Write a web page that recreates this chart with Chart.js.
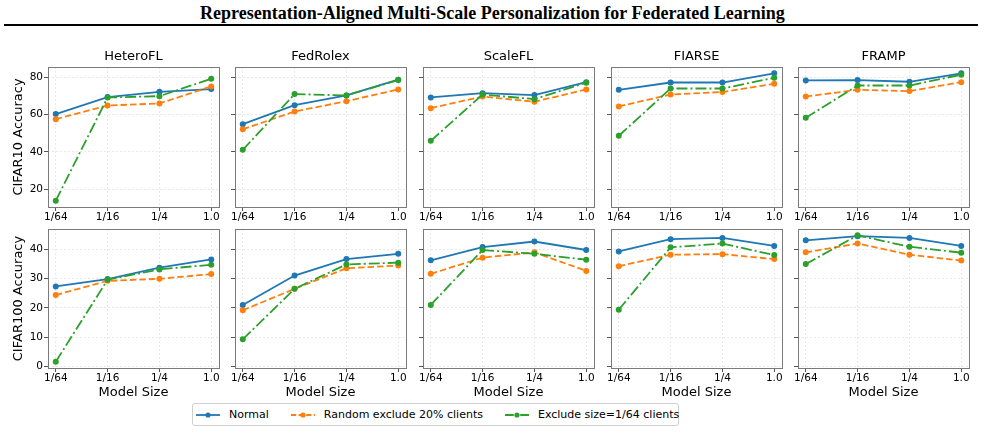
<!DOCTYPE html>
<html>
<head>
<meta charset="utf-8">
<script src="https://cdn.jsdelivr.net/npm/chart.js@4.4.1/dist/chart.umd.min.js"></script>
<style>
  html, body { margin: 0; padding: 0; background: #fff; }
  #wrap { position: relative; width: 985px; height: 434px; overflow: hidden; font-family: "DejaVu Sans", sans-serif; }
  #title { position: absolute; left: 0; top: 3px; width: 985px; text-align: center; font-family: "Liberation Serif", serif; font-weight: bold; font-size: 18px; color: #000; }
  #rule { position: absolute; left: 4px; top: 24px; width: 974px; height: 2px; background: #000; }
  canvas { position: absolute; }
  #legend { position: absolute; left: 192px; top: 403px; width: 487px; height: 23px; box-sizing: border-box; border: 1px solid #d0d0d0; border-radius: 3px; display: flex; align-items: center; padding-left: 3px; font-size: 11px; color: #000; white-space: nowrap; }
  #legend .item { display: flex; align-items: center; margin-right: 22px; flex-shrink: 0; }
  #legend svg { margin-right: 9px; }
</style>
</head>
<body>
<div id="wrap">
  <div id="title">Representation-Aligned Multi-Scale Personalization for Federated Learning</div>
  <div id="rule"></div>
  <div id="legend"></div>
</div>
<script>
const sizeLabels = ['1/64', '1/16', '1/4', '1.0'];
const sizePos = [0, 1, 2, 3];
const methods = ['HeteroFL', 'FedRolex', 'ScaleFL', 'FIARSE', 'FRAMP'];
const seriesNames = ['Normal', 'Random exclude 20% clients', 'Exclude size=1/64 clients'];
const rowLabels = ['CIFAR10 Accuracy', 'CIFAR100 Accuracy'];
const c10Ticks = [20, 40, 60, 80];
const c100Ticks = [0, 10, 20, 30, 40];

// CIFAR10, one row per method: 1/64, 1/16, 1/4, 1.0
const c10Normal = [
  [60.2, 69.3, 72.1, 73.6],
  [54.8, 65.0, 70.2, 78.6],
  [69.1, 71.4, 70.4, 77.3],
  [73.2, 77.1, 77.1, 82.0],
  [78.2, 78.4, 77.5, 82.0]
];
const c10Random = [
  [57.5, 64.8, 65.9, 75.0],
  [52.1, 61.6, 67.1, 73.4],
  [63.4, 69.6, 66.8, 73.4],
  [64.3, 70.7, 72.0, 76.4],
  [69.6, 73.2, 72.5, 77.3]
];
const c10Exclude = [
  [13.9, 69.1, 69.8, 79.1],
  [41.1, 70.9, 70.2, 78.4],
  [45.9, 70.7, 68.2, 77.0],
  [48.6, 73.9, 73.9, 79.6],
  [58.2, 75.5, 75.5, 81.3]
];

// CIFAR100
const c100Normal = [
  [27.3, 29.8, 33.7, 36.5],
  [21.0, 31.0, 36.6, 38.4],
  [36.2, 40.7, 42.6, 39.7],
  [39.2, 43.4, 43.8, 41.1],
  [43.0, 44.4, 43.8, 41.1]
];
const c100Random = [
  [24.4, 29.2, 29.9, 31.5],
  [19.2, 26.5, 33.5, 34.4],
  [31.6, 37.1, 38.9, 32.6],
  [34.2, 38.1, 38.3, 36.6],
  [38.9, 41.9, 38.1, 36.1]
];
const c100Exclude = [
  [1.7, 29.6, 33.1, 34.7],
  [9.3, 26.5, 34.8, 35.4],
  [21.0, 39.7, 38.4, 36.4],
  [19.4, 40.6, 41.9, 38.0],
  [34.9, 44.7, 40.8, 38.8]
];

const colors = ['#1f77b4', '#ff7f0e', '#2ca02c'];
const dashes = [[], [6.5, 3], [11, 3, 2, 3]];
const rows = [
  { series: [c10Normal, c10Random, c10Exclude], ticks: c10Ticks, label: rowLabels[0] },
  { series: [c100Normal, c100Random, c100Exclude], ticks: c100Ticks, label: rowLabels[1] }
];
const boxLeft = [48, 235, 423, 611, 798];
const boxWidth = 171;

const framePlugin = {
  id: 'frame',
  afterDraw(chart) {
    const a = chart.chartArea;
    const ctx = chart.ctx;
    ctx.save();
    ctx.strokeStyle = '#7a7a7a';
    ctx.lineWidth = 1;
    ctx.strokeRect(Math.round(a.left) + 0.5, Math.round(a.top) + 0.5, Math.round(a.right - a.left), Math.round(a.bottom - a.top));
    ctx.restore();
  }
};

function yLimits(series) {
  const all = series.flat(2);
  const lo = Math.min(...all), hi = Math.max(...all);
  const pad = (hi - lo) * 0.05;
  return [lo - pad, hi + pad];
}

rows.forEach((row, r) => {
  const [ymin, ymax] = yLimits(row.series);
  methods.forEach((name, c) => {
    const first = c === 0;
    const cv = document.createElement('canvas');
    const left = first ? 0 : boxLeft[c] - 10;
    const width = boxLeft[c] + boxWidth + 8 - left;
    const top = r === 0 ? 40 : 209;
    const height = r === 0 ? 186 : 191;
    cv.width = width; cv.height = height;
    cv.style.left = left + 'px'; cv.style.top = top + 'px';
    cv.style.width = width + 'px'; cv.style.height = height + 'px';
    document.getElementById('wrap').appendChild(cv);

    const datasets = row.series.map((s, k) => ({
      label: seriesNames[k],
      data: sizePos.map((x, i) => ({ x: x, y: s[c][i] })),
      borderColor: colors[k],
      backgroundColor: colors[k],
      borderWidth: 1.8,
      borderDash: dashes[k],
      pointRadius: 3,
      pointBorderWidth: 0,
      pointBackgroundColor: colors[k],
      tension: 0,
      order: 2 - k
    }));

    new Chart(cv.getContext('2d'), {
      type: 'line',
      data: { datasets: datasets },
      options: {
        responsive: false,
        animation: false,
        events: [],
        layout: { padding: { left: 0, right: 8, top: r === 0 ? 0 : 20, bottom: 0 } },
        plugins: {
          legend: { display: false },
          tooltip: { enabled: false },
          title: {
            display: r === 0,
            text: name,
            fullSize: false,
            color: '#000',
            font: { family: 'DejaVu Sans', size: 13, weight: 'normal' },
            padding: { top: 9.2, bottom: 2.2 }
          }
        },
        scales: {
          x: {
            type: 'linear',
            min: -0.15,
            max: 3.15,
            afterBuildTicks: s => { s.ticks = sizePos.map(v => ({ value: v })); },
            afterFit: s => { s.height = r === 0 ? 19 : 32; },
            ticks: {
              callback: v => sizeLabels[v],
              color: '#000',
              font: { family: 'DejaVu Sans', size: 10.5 },
              padding: 0,
              maxRotation: 0,
              autoSkip: false
            },
            grid: { color: '#e2e2e2', lineWidth: 0.8, tickColor: '#555', tickWidth: 1, tickLength: 4 },
            border: { display: false, dash: [2, 2] },
            title: {
              display: r === 1,
              text: 'Model Size',
              color: '#000',
              font: { family: 'DejaVu Sans', size: 13 },
              padding: 0
            }
          },
          y: {
            type: 'linear',
            min: ymin,
            max: ymax,
            afterBuildTicks: s => { s.ticks = row.ticks.map(v => ({ value: v })); },
            afterFit: s => { s.width = first ? 48 : 10; },
            ticks: {
              display: first,
              color: '#000',
              font: { family: 'DejaVu Sans', size: 10.5 },
              padding: 1
            },
            grid: { color: '#e2e2e2', lineWidth: 0.8, tickColor: '#555', tickWidth: 1, tickLength: 4 },
            border: { display: false, dash: [2, 2] },
            title: {
              display: first,
              text: row.label,
              color: '#000',
              font: { family: 'DejaVu Sans', size: 13 },
              padding: { top: 11.2, bottom: 0 }
            }
          }
        }
      },
      plugins: [framePlugin]
    });
  });
});

// legend
const legend = document.getElementById('legend');
seriesNames.forEach((n, k) => {
  const item = document.createElement('div');
  item.className = 'item';
  const dash = dashes[k].length ? ` stroke-dasharray="${dashes[k].map(d => d * 0.8).join(' ')}"` : '';
  item.innerHTML = `<svg width="24" height="10"><line x1="0" y1="5" x2="24" y2="5" stroke="${colors[k]}" stroke-width="1.8"${dash}/><circle cx="12" cy="5" r="2.6" fill="${colors[k]}"/></svg><span>${n}</span>`;
  legend.appendChild(item);
});
</script>
</body>
</html>
